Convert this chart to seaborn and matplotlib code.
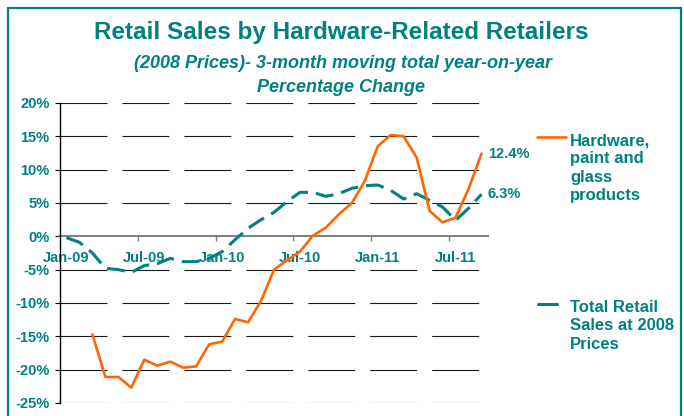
import matplotlib
matplotlib.use("Agg")
import matplotlib.pyplot as plt
from matplotlib.lines import Line2D
import numpy as np
import pandas as pd
import seaborn as sns

# ---- data ----
months = ["Jan-09", "Feb-09", "Mar-09", "Apr-09", "May-09", "Jun-09", "Jul-09", "Aug-09",
          "Sep-09", "Oct-09", "Nov-09", "Dec-09", "Jan-10", "Feb-10", "Mar-10", "Apr-10",
          "May-10", "Jun-10", "Jul-10", "Aug-10", "Sep-10", "Oct-10", "Nov-10", "Dec-10",
          "Jan-11", "Feb-11", "Mar-11", "Apr-11", "May-11", "Jun-11", "Jul-11", "Aug-11",
          "Sep-11"]
hardware = [np.nan, np.nan, -14.7, -21.1, -21.1, -22.7, -18.5, -19.4, -18.8, -19.7, -19.5,
            -16.2, -15.8, -12.4, -12.9, -9.7, -5.0, -3.6, -2.3, 0.1, 1.3, 3.3, 5.0, 8.3,
            13.5, 15.2, 15.0, 11.8, 3.8, 2.1, 2.8, 7.1, 12.4]
total_retail = [-0.2, -0.9, -2.5, -4.8, -5.0, -5.4, -4.4, -4.1, -3.3, -3.8, -3.8, -3.3,
                -2.3, -0.5, 1.2, 2.5, 3.6, 5.2, 6.6, 6.6, 6.0, 6.4, 7.2, 7.6, 7.7, 6.9,
                5.6, 6.4, 5.4, 4.4, 2.4, 4.2, 6.3]
tick_labels = ["Jan-09", "Jul-09", "Jan-10", "Jul-10", "Jan-11", "Jul-11"]
y_ticks = [-25, -20, -15, -10, -5, 0, 5, 10, 15, 20]
series_names = ["Hardware,\npaint and\nglass\nproducts", "Total Retail\nSales at 2008\nPrices"]
end_labels = ["12.4%", "6.3%"]

TEAL = "#008080"
ORANGE = "#FF6600"

sns.set_style("white")
plt.rcParams["font.family"] = ["Liberation Sans", "DejaVu Sans"]
plt.rcParams["lines.scale_dashes"] = False

df = pd.DataFrame({"idx": np.arange(len(months)), "month": months,
                   "hardware": hardware, "total": total_retail})

W, H = 684, 416
fig = plt.figure(figsize=(W / 100, H / 100), dpi=100)
ax = fig.add_axes([60 / W, 13 / H, 428 / W, 300 / H])

# gridlines (long dashes), excluding zero which is the axis line
for yv in y_ticks:
    if yv != 0:
        ax.axhline(yv, color="#1a1a1a", lw=0.8, linestyle=(0, (33.8, 10.8)), zorder=1)

sns.lineplot(data=df, x="idx", y="total", ax=ax, color=TEAL, lw=2.2,
             linestyle=(0, (13, 5.8)), zorder=3)
sns.lineplot(data=df, x="idx", y="hardware", ax=ax, color=ORANGE, lw=1.9, zorder=4)

ax.set_xlim(-0.5, len(months) - 0.5)
ax.set_ylim(-25, 20)
ax.set_xlabel("")
ax.set_ylabel("")

# spines
for s in ["top", "right"]:
    ax.spines[s].set_visible(False)
ax.spines["left"].set_color("black")
ax.spines["left"].set_linewidth(1.0)
ax.spines["bottom"].set_position(("data", 0))
ax.spines["bottom"].set_color("#808080")
ax.spines["bottom"].set_linewidth(1.5)
ax.spines["bottom"].set_zorder(2)

# y ticks
ax.set_yticks(y_ticks)
ax.set_yticklabels([f"{v}%" for v in y_ticks])
ax.tick_params(axis="y", direction="out", length=3.6, width=0.8, color="black",
               pad=4.0, labelsize=10.5, labelcolor=TEAL, left=True)
for t in ax.get_yticklabels():
    t.set_fontweight("bold")

# x ticks: marks at 6-month boundaries, labels on category centres
label_pos = [months.index(m) for m in tick_labels]
ax.set_xticks([p - 0.5 for p in label_pos[1:]])
ax.set_xticklabels([])
ax.set_xticks(label_pos, minor=True)
ax.set_xticklabels(tick_labels, minor=True)
ax.tick_params(axis="x", which="major", direction="out", length=3.6, width=1.0,
               color="#808080", bottom=True)
ax.tick_params(axis="x", which="minor", length=0, pad=10.5, labelsize=10.5,
               labelcolor=TEAL, bottom=True)
for t in ax.get_xticklabels(minor=True):
    t.set_fontweight("bold")

# end labels
last = len(months) - 1
ax.annotate(end_labels[0], xy=(last, hardware[-1]), xytext=(4.5, 0),
            textcoords="offset points", ha="left", va="center", color=TEAL,
            fontsize=10.5, fontweight="bold", annotation_clip=False)
ax.annotate(end_labels[1], xy=(last, total_retail[-1]), xytext=(4.5, 0),
            textcoords="offset points", ha="left", va="center", color=TEAL,
            fontsize=10.5, fontweight="bold", annotation_clip=False)

def fx(px):
    return px / W

def fy(py):
    return 1 - py / H

# legend (manual)
fig.add_artist(Line2D([fx(537), fx(566)], [fy(137), fy(137)], color=ORANGE, lw=1.9))
fig.text(fx(570), fy(133), series_names[0], ha="left", va="top", color=TEAL,
         fontsize=12, fontweight="bold", linespacing=1.28)
fig.add_artist(Line2D([fx(538), fx(557)], [fy(304), fy(304)], color=TEAL, lw=2.2))
fig.text(fx(570), fy(300), series_names[1], ha="left", va="top", color=TEAL,
         fontsize=12, fontweight="bold", linespacing=1.28)

# titles
fig.text(fx(341), fy(33), "Retail Sales by Hardware-Related Retailers", ha="center",
         va="center", color=TEAL, fontsize=17.5, fontweight="bold")
fig.text(fx(343), fy(64), "(2008 Prices)- 3-month moving total year-on-year",
         ha="center", va="center", color=TEAL, fontsize=13, fontweight="bold",
         fontstyle="italic")
fig.text(fx(341), fy(87), "Percentage Change", ha="center", va="center", color=TEAL,
         fontsize=13, fontweight="bold", fontstyle="italic")

# frame
fig.add_artist(Line2D([fx(8), fx(8)], [fy(8), fy(420)], color=TEAL, lw=1.6))
fig.add_artist(Line2D([fx(8), fx(681)], [fy(8), fy(8)], color=TEAL, lw=1.6))
fig.add_artist(Line2D([fx(681), fx(681)], [fy(8), fy(420)], color=TEAL, lw=1.6))

fig.savefig("out.png", dpi=100)
